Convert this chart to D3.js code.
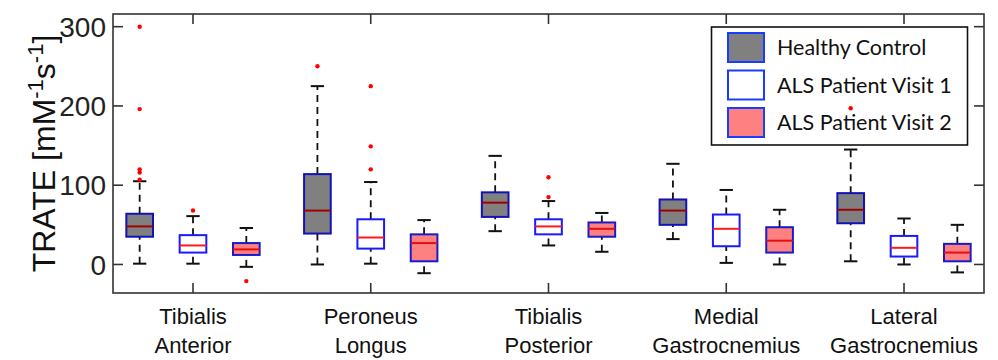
<!DOCTYPE html>
<html>
<head>
<meta charset="utf-8">
<script src="https://cdn.jsdelivr.net/npm/d3@7"></script>
<style>
  body { margin: 0; background: #fff; }
  svg { display: block; }
</style>
</head>
<body>
<div id="chart"></div>
<script>
// muscle groups (two-line labels)
const muscles = [
  ["Tibialis", "Anterior"],
  ["Peroneus", "Longus"],
  ["Tibialis", "Posterior"],
  ["Medial", "Gastrocnemius"],
  ["Lateral", "Gastrocnemius"]
];
const seriesNames = ["Healthy Control", "ALS Patient Visit 1", "ALS Patient Visit 2"];
const yTicks = [0, 100, 200, 300];

// box stats per muscle: [whisker low, q1, median, q3, whisker high]
const healthy = [
  [1, 35, 48, 64, 105],
  [0, 39, 68, 114, 225],
  [42, 60, 78, 91, 137],
  [32, 50, 68, 82, 127],
  [4, 52, 69, 90, 145]
];
const visit1 = [
  [1, 15, 24, 37, 61],
  [1, 20, 34, 57, 104],
  [24, 38, 48, 57, 80],
  [2, 23, 45, 63, 94],
  [0, 10, 21, 36, 58]
];
const visit2 = [
  [-3, 12, 19, 27, 46],
  [-11, 4, 27, 38, 56],
  [16, 35, 45, 53, 65],
  [0, 15, 30, 47, 69],
  [-10, 4, 15, 26, 50]
];
// outliers per muscle
const healthyOut = [[300, 196, 120, 116, 107], [250], [], [], [197]];
const visit1Out = [[68], [225, 149, 120], [110, 85], [], []];
const visit2Out = [[-21], [], [], [], []];

const W = 998, H = 360;
const mL = 113, mR = 984, mT = 14, mB = 293;

const svg = d3.select("#chart").append("svg")
  .attr("width", W).attr("height", H);

const x = d3.scaleLinear().domain([0.55, 5.45]).range([mL, mR]);
const y = d3.scaleLinear().domain([-36, 316]).range([mB, mT]);

const series = [
  { stats: healthy, out: healthyOut, off: -0.3, fill: "#808080", stroke: "#1212b8", med: "#a00000" },
  { stats: visit1, out: visit1Out, off: 0, fill: "#ffffff", stroke: "#1a1aff", med: "#ff1a1a" },
  { stats: visit2, out: visit2Out, off: 0.3, fill: "#ff8080", stroke: "#1a1acc", med: "#e01010" }
];
const boxW = x(0.15) - x(0);

// axes box + ticks
const axisColor = "#333";
const tickLen = 10;
const fr = svg.append("g");
fr.append("rect")
  .attr("x", mL).attr("y", mT)
  .attr("width", mR - mL).attr("height", mB - mT)
  .attr("fill", "none").attr("stroke", axisColor).attr("stroke-width", 1.6);

yTicks.forEach(t => {
  fr.append("line").attr("x1", mL).attr("x2", mL + tickLen)
    .attr("y1", y(t)).attr("y2", y(t)).attr("stroke", axisColor).attr("stroke-width", 1.6);
  fr.append("line").attr("x1", mR - tickLen).attr("x2", mR)
    .attr("y1", y(t)).attr("y2", y(t)).attr("stroke", axisColor).attr("stroke-width", 1.6);
  fr.append("text").attr("x", mL - 7).attr("y", y(t))
    .attr("dy", "0.36em").attr("text-anchor", "end")
    .attr("font-family", "Liberation Sans, Arial, sans-serif")
    .attr("font-size", 28).attr("fill", "#222").text(t);
});

muscles.forEach((m, i) => {
  const cx = x(i + 1);
  fr.append("line").attr("x1", cx).attr("x2", cx)
    .attr("y1", mT).attr("y2", mT + tickLen).attr("stroke", axisColor).attr("stroke-width", 1.6);
  fr.append("line").attr("x1", cx).attr("x2", cx)
    .attr("y1", mB - tickLen).attr("y2", mB).attr("stroke", axisColor).attr("stroke-width", 1.6);
  const t = fr.append("text").attr("text-anchor", "middle")
    .attr("font-family", "Liberation Sans, Arial, sans-serif")
    .attr("font-size", 22).attr("fill", "#111");
  t.append("tspan").attr("x", cx).attr("y", 324).text(m[0]);
  t.append("tspan").attr("x", cx).attr("y", 353).text(m[1]);
});

// y label
const yl = svg.append("text")
  .attr("transform", `translate(55,${(mT + mB) / 2}) rotate(-90)`)
  .attr("text-anchor", "middle")
  .attr("font-family", "Liberation Sans, Arial, sans-serif")
  .attr("font-size", 32).attr("fill", "#111");
yl.append("tspan").text("TRATE [mM");
yl.append("tspan").attr("dy", -12).attr("font-size", 22).text("-1");
yl.append("tspan").attr("dy", 12).text("s");
yl.append("tspan").attr("dy", -12).attr("font-size", 22).text("-1");
yl.append("tspan").attr("dy", 12).text("]");

// boxes
const plot = svg.append("g");
series.forEach(s => {
  s.stats.forEach((d, i) => {
    const cx = x(i + 1 + s.off);
    const g = plot.append("g");
    // whiskers
    [[d[3], d[4]], [d[0], d[1]]].forEach(([a, b]) => {
      g.append("line").attr("x1", cx).attr("x2", cx)
        .attr("y1", y(a)).attr("y2", y(b))
        .attr("stroke", "#111").attr("stroke-width", 1.8)
        .attr("stroke-dasharray", "7,5");
    });
    [d[0], d[4]].forEach(v => {
      g.append("line").attr("x1", cx - boxW / 4).attr("x2", cx + boxW / 4)
        .attr("y1", y(v)).attr("y2", y(v))
        .attr("stroke", "#111").attr("stroke-width", 2);
    });
    g.append("rect")
      .attr("x", cx - boxW / 2).attr("y", y(d[3]))
      .attr("width", boxW).attr("height", y(d[1]) - y(d[3]))
      .attr("fill", s.fill).attr("stroke", s.stroke).attr("stroke-width", 2);
    g.append("line").attr("x1", cx - boxW / 2).attr("x2", cx + boxW / 2)
      .attr("y1", y(d[2])).attr("y2", y(d[2]))
      .attr("stroke", s.med).attr("stroke-width", 2);
  });
});

// legend
const lg = svg.append("g");
lg.append("rect").attr("x", 711.5).attr("y", 27).attr("width", 256).attr("height", 118)
  .attr("fill", "#fff").attr("stroke", "#111").attr("stroke-width", 1.6);
series.forEach((s, i) => {
  const ry = 33 + i * 37.5;
  lg.append("rect").attr("x", 728).attr("y", ry).attr("width", 36).attr("height", 29)
    .attr("fill", s.fill).attr("stroke", "#1a3cff").attr("stroke-width", 2);
  lg.append("text").attr("x", 777).attr("y", ry + 22)
    .attr("font-family", "Lato, sans-serif").attr("font-size", 21.5).attr("fill", "#111")
    .text(seriesNames[i]);
});

// outliers (drawn last)
series.forEach(s => {
  s.out.forEach((arr, i) => {
    plot.selectAll(null).data(arr).enter().append("circle")
      .attr("cx", x(i + 1 + s.off)).attr("cy", v => y(v))
      .attr("r", 2.2).attr("fill", "#ff0000");
  });
});
svg.node().appendChild(plot.node());
</script>
</body>
</html>
